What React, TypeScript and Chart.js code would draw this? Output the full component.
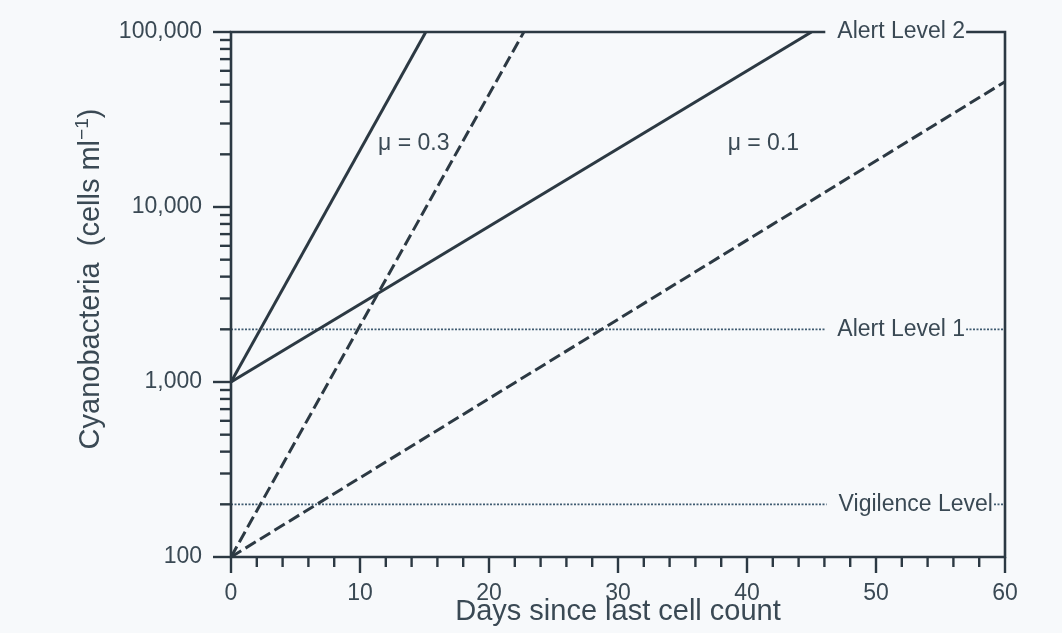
import React, { useEffect, useRef } from 'react';
import { Chart, registerables } from 'chart.js';

Chart.register(...registerables);

// ---- data ----
const mu03SolidDays = [0, 15.1];
const mu03SolidCells = [1000, 100000];
const mu03DashedDays = [0, 22.7];
const mu03DashedCells = [100, 100000];
const mu01SolidDays = [0, 45.0];
const mu01SolidCells = [1000, 100000];
const mu01DashedDays = [0, 60];
const mu01DashedCells = [100, 52000];
const levelDays = [0, 60];
const alertLevel1Cells = [2000, 2000];
const vigilenceCells = [200, 200];
const yDecades = [100, 1000, 10000];
const yMultipliers = [1, 2, 3, 4, 5, 6, 7, 8, 9];
const yTickLabels = ['100', '1,000', '10,000', '100,000'];
const xMajorStep = 10;
const xMinorStep = 2;

const labelTexts = ['μ = 0.3', 'μ = 0.1', 'Alert Level 2', 'Alert Level 1', 'Vigilence Level'];
const labelDays = [11.4, 38.5, 47.0, 47.0, 47.1];
const labelCells = [23000, 23000, 100000, 2000, 200];
const labelHasBg = [false, false, true, true, true];

const LINE = '#2c3943';
const TEXT = '#3a4954';
const DOT = '#3f5b70';
const BG = '#f7f9fb';
const FONT = "'Liberation Sans', Arial, Helvetica, sans-serif";

export default function App() {
  const ref = useRef<HTMLCanvasElement>(null);

  useEffect(() => {
    const canvas = ref.current;
    if (!canvas) return;
    const pts = (xs: number[], ys: number[]) => xs.map((x, i) => ({ x, y: ys[i] }));

    const decorPlugin = {
      id: 'decor',
      beforeDraw(chart: any) {
        const { ctx, width, height } = chart;
        ctx.save();
        ctx.fillStyle = BG;
        ctx.fillRect(0, 0, width, height);
        ctx.restore();
      },
      afterDatasetsDraw(chart: any) {
        const { ctx, chartArea: a } = chart;
        const xs = chart.scales.x;
        const ys = chart.scales.y;
        ctx.save();
        ctx.strokeStyle = LINE;
        ctx.lineWidth = 2.6;
        ctx.lineCap = 'butt';
        ctx.beginPath();
        ctx.rect(a.left, a.top, a.right - a.left, a.bottom - a.top);
        ctx.stroke();
        // x ticks
        ctx.lineWidth = 2.4;
        xs.ticks.forEach((t: any) => {
          const px = xs.getPixelForValue(t.value);
          const major = Math.abs(t.value % xMajorStep) < 1e-9;
          ctx.beginPath();
          ctx.moveTo(px, a.bottom);
          ctx.lineTo(px, a.bottom + (major ? 16 : 10));
          ctx.stroke();
        });
        // y ticks
        ys.ticks.forEach((t: any) => {
          const py = ys.getPixelForValue(t.value);
          const l = Math.log10(t.value);
          const major = Math.abs(l - Math.round(l)) < 1e-9;
          ctx.beginPath();
          ctx.moveTo(a.left - (major ? 18 : 11), py);
          ctx.lineTo(a.left, py);
          ctx.stroke();
        });
        // annotations
        ctx.font = `23px ${FONT}`;
        ctx.textBaseline = 'middle';
        ctx.textAlign = 'left';
        labelTexts.forEach((txt, i) => {
          const px = xs.getPixelForValue(labelDays[i]);
          const py = ys.getPixelForValue(labelCells[i]);
          const w = ctx.measureText(txt).width;
          if (labelHasBg[i]) {
            ctx.fillStyle = BG;
            ctx.fillRect(px - 12, py - 13, w + 13, 26);
          }
          ctx.fillStyle = TEXT;
          ctx.fillText(txt, px, py);
        });
        // y axis title with superscript
        const main = 'Cyanobacteria  (cells ml';
        const sup = '−1';
        const tail = ')';
        ctx.font = `29px ${FONT}`;
        const w1 = ctx.measureText(main).width;
        const w3 = ctx.measureText(tail).width;
        ctx.font = `19px ${FONT}`;
        const w2 = ctx.measureText(sup).width;
        const total = w1 + w2 + w3;
        ctx.translate(99, 279);
        ctx.rotate(-Math.PI / 2);
        ctx.textBaseline = 'alphabetic';
        ctx.fillStyle = TEXT;
        let cx = -total / 2;
        ctx.font = `29px ${FONT}`;
        ctx.fillText(main, cx, 0);
        cx += w1;
        ctx.font = `19px ${FONT}`;
        ctx.fillText(sup, cx, -11);
        cx += w2;
        ctx.font = `29px ${FONT}`;
        ctx.fillText(tail, cx, 0);
        ctx.restore();
      },
    };

    const solid = { borderColor: LINE, borderWidth: 3, pointRadius: 0, fill: false, tension: 0 };
    const dashed = { ...solid, borderDash: [12, 5] };
    const dotted = { borderColor: DOT, borderWidth: 1.8, borderDash: [2, 1.5], pointRadius: 0, fill: false };

    const chart = new Chart(canvas, {
      type: 'line',
      data: {
        datasets: [
          { label: 'μ = 0.3 (from 1,000)', data: pts(mu03SolidDays, mu03SolidCells), ...solid },
          { label: 'μ = 0.3 (from 100)', data: pts(mu03DashedDays, mu03DashedCells), ...dashed },
          { label: 'μ = 0.1 (from 1,000)', data: pts(mu01SolidDays, mu01SolidCells), ...solid },
          { label: 'μ = 0.1 (from 100)', data: pts(mu01DashedDays, mu01DashedCells), ...dashed },
          { label: 'Alert Level 1', data: pts(levelDays, alertLevel1Cells), ...dotted },
          { label: 'Vigilence Level', data: pts(levelDays, vigilenceCells), ...dotted },
        ],
      } as any,
      options: {
        animation: false,
        responsive: false,
        devicePixelRatio: 1,
        layout: { padding: { top: 32, right: 57, left: 0, bottom: 0 } },
        plugins: {
          legend: { display: false },
          tooltip: { enabled: false },
        },
        scales: {
          x: {
            type: 'linear',
            min: 0,
            max: 60,
            grid: { display: false, drawTicks: false },
            border: { display: false },
            ticks: {
              stepSize: xMinorStep,
              autoSkip: false,
              maxRotation: 0,
              padding: 23,
              color: TEXT,
              font: { size: 23, family: FONT },
              callback: (v: any) => (Math.abs(Number(v) % xMajorStep) < 1e-9 ? String(v) : ''),
            },
            title: {
              display: true,
              text: 'Days since last cell count',
              color: TEXT,
              font: { size: 29, family: FONT },
              padding: { top: 0, bottom: 4 },
            },
            afterFit: (s: any) => {
              s.height = 76;
            },
          },
          y: {
            type: 'logarithmic',
            min: 100,
            max: 100000,
            grid: { display: false, drawTicks: true, tickLength: 29 },
            border: { display: false },
            afterBuildTicks: (s: any) => {
              const ticks: any[] = [];
              yDecades.forEach((d) => yMultipliers.forEach((m) => ticks.push({ value: d * m })));
              ticks.push({ value: 100000 });
              s.ticks = ticks;
            },
            ticks: {
              autoSkip: false,
              padding: 0,
              color: TEXT,
              font: { size: 23, family: FONT },
              callback: (v: any) => {
                const l = Math.log10(Number(v));
                if (Math.abs(l - Math.round(l)) < 1e-9) return yTickLabels[Math.round(l) - 2];
                return '';
              },
            },
            afterFit: (s: any) => {
              s.width = 231;
              s.paddingTop = 14;
              s.paddingBottom = 14;
            },
          },
        },
      } as any,
      plugins: [decorPlugin],
    });

    return () => chart.destroy();
  }, []);

  return (
    <div style={{ position: 'absolute', left: 0, top: 0, width: 1062, height: 633, background: BG }}>
      <canvas ref={ref} width={1062} height={633} style={{ display: 'block' }} />
    </div>
  );
}
